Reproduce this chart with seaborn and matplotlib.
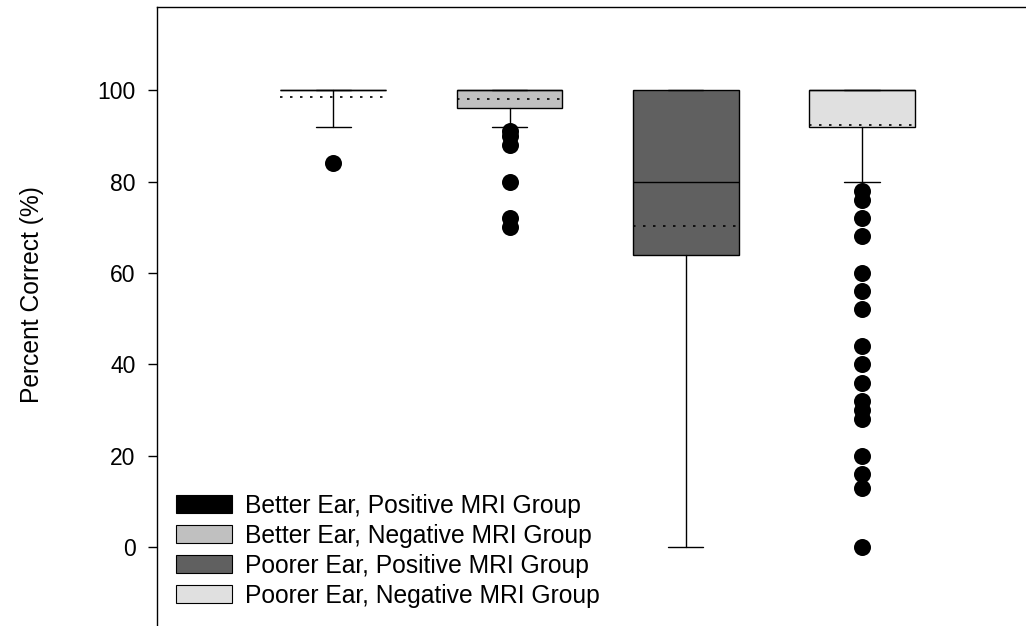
import matplotlib
matplotlib.use("Agg")
import matplotlib.pyplot as plt
from matplotlib.patches import Patch
import seaborn as sns
import pandas as pd

# Groups, in drawing order
groups = [
    "Better Ear, Positive MRI Group",
    "Better Ear, Negative MRI Group",
    "Poorer Ear, Positive MRI Group",
    "Poorer Ear, Negative MRI Group",
]
fills = ["#000000", "#c0c0c0", "#606060", "#e0e0e0"]

# Box summary statistics (percent correct)
whisker_low = [92, 92, 0, 80]
q1 = [100, 96, 64, 92]
median = [100, 100, 80, 100]
q3 = [100, 100, 100, 100]
whisker_high = [100, 100, 100, 100]
mean = [98.4, 98.0, 70.2, 92.3]

# Outlying scores per group
outliers_1 = [84]
outliers_2 = [91, 90, 88, 80, 72, 70]
outliers_3 = []
outliers_4 = [78, 76, 72, 68, 60, 56, 52, 44, 40, 36, 32, 30, 28, 20, 16, 13, 0]

y_ticks = [0, 20, 40, 60, 80, 100]

sns.set_style("ticks")
plt.rcParams["font.family"] = ["Liberation Sans", "DejaVu Sans"]
plt.rcParams.update({"text.color": "black", "axes.labelcolor": "black",
                     "xtick.color": "black", "ytick.color": "black",
                     "axes.edgecolor": "black"})

fig = plt.figure(figsize=(10.26, 6.26), dpi=100)
ax = fig.add_axes([157 / 1026, 0.0, 1 - 157 / 1026, 1 - 7 / 626])

positions = list(range(len(groups)))
stats = []
for i in positions:
    stats.append(dict(whislo=whisker_low[i], q1=q1[i], med=median[i], q3=q3[i],
                      whishi=whisker_high[i], mean=mean[i], fliers=[]))

bp = ax.bxp(stats, positions=positions, widths=0.6, capwidths=0.2,
            patch_artist=True, showmeans=True, meanline=True, showfliers=False,
            boxprops=dict(edgecolor="black", linewidth=1.0),
            medianprops=dict(color="black", linewidth=1.0),
            whiskerprops=dict(color="black", linewidth=1.0),
            capprops=dict(color="black", linewidth=1.0),
            meanprops=dict(color="black", linewidth=1.2, linestyle=(0, (1.5, 4.5))))
for patch, c in zip(bp["boxes"], fills):
    patch.set_facecolor(c)

# Outlying points
out_df = pd.DataFrame({
    "pos": [0] * len(outliers_1) + [1] * len(outliers_2) + [2] * len(outliers_3) + [3] * len(outliers_4),
    "score": outliers_1 + outliers_2 + outliers_3 + outliers_4,
})
sns.scatterplot(data=out_df, x="pos", y="score", color="black", s=150,
                linewidth=0, legend=False, ax=ax, zorder=5)

ax.set_xlim(-1.0, 3.93)
ax.set_ylim(-17.3, 118.2)
ax.set_yticks(y_ticks)
ax.set_yticklabels([str(t) for t in y_ticks], fontsize=16.5, color="black")
ax.set_xticks([])
ax.set_xlabel("")
ax.set_ylabel("Percent Correct (%)", fontsize=17.7, color="black")
ax.yaxis.set_label_coords(-0.13, 0.536)
ax.tick_params(axis="y", direction="out", length=6.5, width=1, pad=9, color="black")

for side in ["right", "bottom"]:
    ax.spines[side].set_visible(False)
for side in ["left", "top"]:
    ax.spines[side].set_linewidth(1.0)
    ax.spines[side].set_color("black")

handles = [Patch(facecolor=c, edgecolor="black", linewidth=0.8) for c in fills]
leg = ax.legend(handles, groups, loc="center left", bbox_to_anchor=(0.0213, 0.1215),
                frameon=False, fontsize=17.7, handlelength=2.28, handleheight=0.73,
                handletextpad=0.55, labelspacing=0.245, borderaxespad=0, borderpad=0)
for t in leg.get_texts():
    t.set_color("black")

fig.savefig("out.png", dpi=100)
